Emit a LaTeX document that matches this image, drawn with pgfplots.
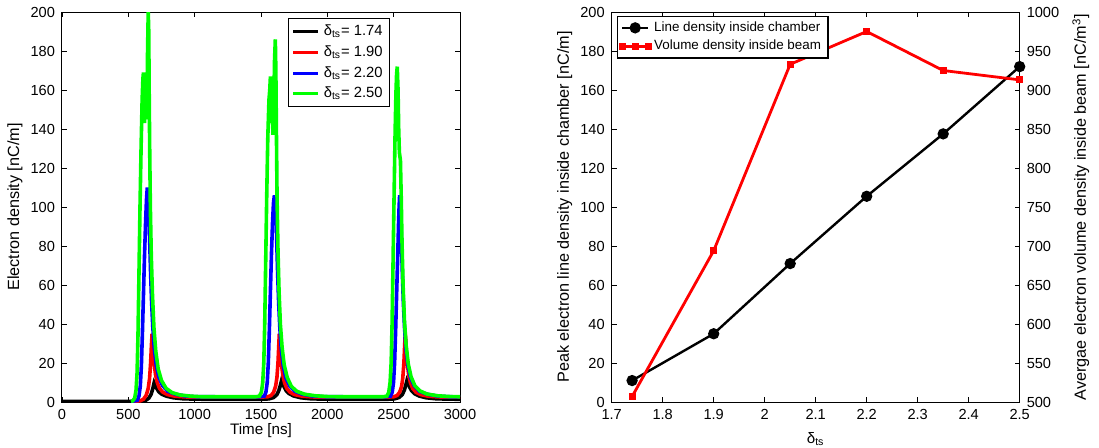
\documentclass[border=0pt]{standalone}
\usepackage{fontspec}
\setmainfont{Liberation Sans}
\usepackage{pgfplots}
\pgfplotsset{compat=1.18}

\pgfplotsset{
  mat/.style={
    scale only axis,
    enlargelimits=false,
    tick align=inside,
    major tick length=2.5pt,
    axis line style={line width=0.5pt},
    every tick/.style={black,line width=0.4pt},
    tick label style={font=\fontsize{7.3}{8}\selectfont},
    /pgf/number format/assume math mode=true,
    /pgf/number format/1000 sep={},
    label style={font=\fontsize{7.6}{9}\selectfont},
    ylabel style={font=\fontsize{8.1}{9}\selectfont},
  },
}

\begin{document}
\begin{tikzpicture}
\useasboundingbox (-31pt,-22.5pt) rectangle (518.5pt,201pt);

% left: electron density versus time
\begin{axis}[mat,
  at={(0,0)}, anchor=south west,
  width=199pt, height=195pt,
  xmin=0, xmax=3000, ymin=0, ymax=200,
  xtick={0,500,...,3000}, ytick={0,20,...,200},
  xlabel={Time [ns]}, ylabel={Electron density [nC/m]},
  xlabel style={at={(axis description cs:0.5,-0.072)},anchor=center},
  ylabel style={at={(axis description cs:-0.118,0.5)},anchor=center},
  legend style={at={(rel axis cs:0.568,0.984)},anchor=north west,
    font=\fontsize{7.4}{9}\selectfont, draw=black, line width=0.6pt,
    inner xsep=1.5pt, inner ysep=1pt, row sep=-0.5pt},
  legend cell align=left,
  legend image code/.code={\draw[#1,line width=1.6pt] (0pt,0pt) -- (12.5pt,0pt);},
]
\addplot[black, line width=1.8pt] coordinates {
(0,0.3)(500,0.3)(600,0.4)(630,0.8)(655,2)(672,4)(685,7)(695,10)(703,9)(714,7)(729,5.3)(752,4)(787,3)(838,2.2)(905,1.7)(985,1.5)(1090,1.4)
(1500,1.4)(1560,1.6)(1595,2.3)(1620,3.8)(1635,6)(1646,8.5)(1655,11)(1663,9.8)(1674,7.8)(1690,5.8)(1712,4.3)(1746,3.1)(1798,2.2)(1867,1.7)(1947,1.5)(2050,1.4)
(2450,1.4)(2505,1.6)(2540,2.3)(2565,3.8)(2580,6)(2591,8.5)(2600,11)(2608,9.8)(2619,7.8)(2635,5.8)(2657,4.3)(2691,3.1)(2743,2.2)(2812,1.7)(2892,1.5)(3000,1.4)
};
\addlegendentry{δ\textsubscript{ts}= 1.74}
\addplot[red, line width=1.8pt] coordinates {
(520,0.3)(590,0.6)(615,1.5)(635,3.5)(650,7)(660,12)(668,20)(674,29)(679,35)(683,32)(689,25)(696,19)(705,14)(718,10)(735,7)(760,5)(795,3.8)(850,3)(930,2.6)(1030,2.5)
(1500,2.5)(1550,2.7)(1575,3.3)(1595,5)(1610,8)(1620,12.5)(1628,20)(1634,29)(1638,35)(1642,32)(1648,25)(1655,19)(1664,14)(1677,10)(1694,7)(1719,5)(1754,3.8)(1809,3)(1889,2.6)(1990,2.5)
(2450,2.5)(2500,2.7)(2525,3.3)(2545,5)(2560,8)(2569,12.5)(2577,20)(2583,29)(2587,35)(2591,32)(2597,25)(2604,19)(2613,14)(2626,10)(2643,7)(2668,5)(2703,3.8)(2758,3)(2838,2.6)(2930,2.5)(3000,2.5)
};
\addlegendentry{δ\textsubscript{ts}= 1.90}
\addplot[blue, line width=1.8pt] coordinates {
(520,0.3)(567,0.8)(580,3)(590,8)(598,18)(606,35)(614,55)(622,75)(630,92)(637,104)(643,110)(647,100)(651,95)(655,103)(660,85)(667,68)(675,52)(684,39)(695,28)(710,19)(729,13)(757,8.5)(797,5.5)(855,4)(935,3)(1020,2.7)
(1480,2.6)(1524,3)(1537,5)(1547,10)(1555,20)(1563,37)(1571,57)(1579,76)(1587,92)(1594,102)(1601,106)(1605,95)(1609,92)(1613,100)(1618,84)(1625,67)(1633,51)(1642,38)(1653,27)(1668,18.5)(1687,12.5)(1715,8.3)(1755,5.5)(1812,4)(1893,3)(1990,2.7)
(2430,2.6)(2476,3)(2489,5)(2499,10)(2507,20)(2515,37)(2523,57)(2531,76)(2537,92)(2541,100)(2545,106)(2549,95)(2553,98)(2558,84)(2565,67)(2573,51)(2582,38)(2593,27)(2608,18.5)(2627,12.5)(2655,8.3)(2695,5.5)(2752,4)(2833,3)(2920,2.7)(3000,2.6)
};
\addlegendentry{δ\textsubscript{ts}= 2.20}
\addplot[green, line width=1.8pt] coordinates {
(520,0.3)(533,0.6)(548,2)(558,6)(566,15)(573,35)(580,65)(588,100)(596,130)(604,155)(610,166)(614,169)(618,150)(622,143)(628,152)(634,145)(640,150)(645,180)(650,200)(654,190)(657,160)(661,130)(666,100)(673,75)(682,55)(693,38)(707,26)(725,17)(750,11)(785,7)(830,4.8)(890,3.6)(970,3)(1050,2.7)
(1460,2.7)(1488,3)(1503,5)(1513,10)(1521,20)(1528,40)(1535,70)(1543,105)(1551,135)(1560,155)(1566,160)(1571,167)(1575,150)(1579,143)(1584,155)(1590,137)(1596,150)(1602,175)(1608,186)(1612,170)(1616,140)(1621,105)(1628,78)(1636,57)(1646,40)(1659,28)(1675,19)(1698,12.5)(1729,8)(1770,5.5)(1828,4)(1908,3.2)(2000,2.8)(2080,2.7)
(2420,2.7)(2449,3)(2463,5)(2473,10)(2481,20)(2488,40)(2495,70)(2503,105)(2510,135)(2517,158)(2522,168)(2527,172)(2533,160)(2538,140)(2543,128)(2551,124)(2557,105)(2563,82)(2571,60)(2581,42)(2594,29)(2610,19.5)(2631,13)(2660,8.3)(2698,5.7)(2750,4.1)(2830,3.2)(2920,2.8)(3000,2.7)
};
\addlegendentry{δ\textsubscript{ts}= 2.50}
\end{axis}

% right: peak line density (left scale)
\begin{axis}[mat,
  at={(274.85pt,0)}, anchor=south west,
  width=204pt, height=195pt,
  xmin=1.7, xmax=2.5, ymin=0, ymax=200,
  xtick={1.7,1.8,1.9,2,2.1,2.2,2.3,2.4,2.5}, ytick={0,20,...,200},
  ytick pos=left,
  xlabel={δ\textsubscript{ts}},
  ylabel={Peak electron line density inside chamber [nC/m]},
  xlabel style={at={(axis description cs:0.5,-0.095)},anchor=center},
  ylabel style={at={(axis description cs:-0.115,0.5)},anchor=center},
]
\addplot[black, line width=1.2pt, mark=*, mark size=2.2pt] coordinates {
(1.74,11)(1.90,35)(2.05,71)(2.20,105.5)(2.35,137.5)(2.50,172)
};
\end{axis}

% right: volume density (right scale)
\begin{axis}[mat,
  at={(274.85pt,0)}, anchor=south west,
  width=204pt, height=195pt,
  xmin=1.7, xmax=2.5, ymin=500, ymax=1000,
  axis x line=none, axis y line*=right,
  ytick={500,550,...,1000},
  ylabel={Avergae electron volume density inside beam [nC/m\textsuperscript{3}]},
  ylabel style={at={(axis description cs:1.15,0.5)},anchor=center},
  legend style={at={(rel axis cs:0.012,0.99)},anchor=north west,
    font=\fontsize{6.7}{8}\selectfont, draw=black, line width=0.6pt,
    inner xsep=1.5pt, inner ysep=0.5pt, row sep=-1pt},
  legend cell align=left,
  legend image code/.code={\draw[#1] plot coordinates {(0pt,0pt) (6.5pt,0pt) (13pt,0pt)};},
]
\addlegendimage{black, line width=1.2pt, mark=*, mark size=2.2pt, mark repeat=2, mark phase=2}
\addlegendentry{Line density inside chamber}
\addplot[red, line width=1.4pt, mark=square*, mark size=1pt] coordinates {
(1.74,507)(1.90,694)(2.05,933)(2.20,975)(2.35,925)(2.50,913)
};
\addlegendentry{Volume density inside beam}
\end{axis}
\end{tikzpicture}
\end{document}
